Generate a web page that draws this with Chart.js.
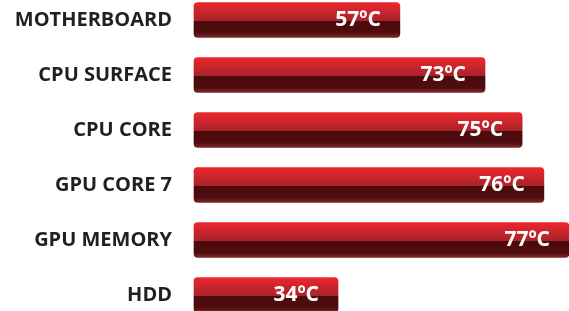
<!DOCTYPE html>
<html>
<head>
<meta charset="utf-8">
<script src="https://cdn.jsdelivr.net/npm/chart.js@4/dist/chart.umd.min.js"></script>
<style>
  html, body { margin: 0; padding: 0; background: #fff; }
  #wrap { width: 569px; height: 311px; position: relative; }
</style>
</head>
<body>
<div id="wrap"><canvas id="tempChart"></canvas></div>
<script>
// 传感器名称
const sensors = ['MOTHERBOARD', 'CPU SURFACE', 'CPU CORE', 'GPU CORE 7', 'GPU MEMORY', 'HDD'];
// 温度 (显示的标签)
const temps = [57, 73, 75, 76, 77, 34];
// 条形长度 (图中读出的相对长度, GPU MEMORY = 100)
const barLength = [54.9, 77.6, 87.5, 93.3, 100, 38.4];

const BAR_H = 35;

// 每根条形自己的光泽渐变
function barGradient(context) {
    const chart = context.chart;
    const yScale = chart.scales.y;
    if (!chart.chartArea || !yScale) return '#c8232a';
    const cy = yScale.getPixelForValue(context.dataIndex);
    const top = cy - BAR_H / 2;
    const g = chart.ctx.createLinearGradient(0, top, 0, top + BAR_H);
    g.addColorStop(0, '#ec272d');
    g.addColorStop(0.53, '#a8232a');
    g.addColorStop(0.54, '#4c0a0c');
    g.addColorStop(0.85, '#4e0c0e');
    g.addColorStop(1, '#7c2628');
    return g;
}

// 条形末端的温度文字
const valueLabels = {
    id: 'valueLabels',
    afterDatasetsDraw(chart) {
        const ctx = chart.ctx;
        const meta = chart.getDatasetMeta(0);
        ctx.save();
        ctx.font = 'bold 21px "Open Sans"';
        ctx.fillStyle = '#ffffff';
        ctx.textAlign = 'right';
        ctx.textBaseline = 'middle';
        meta.data.forEach((bar, i) => {
            ctx.fillText(temps[i] + 'ºC', bar.x - 19, bar.y);
        });
        ctx.restore();
    }
};

const ctx = document.getElementById('tempChart').getContext('2d');

new Chart(ctx, {
    type: 'bar',
    data: {
        labels: sensors,
        datasets: [{
            data: barLength,
            backgroundColor: barGradient,
            borderWidth: 0,
            borderRadius: 4,
            borderSkipped: false,
            barThickness: BAR_H,
            clip: false
        }]
    },
    options: {
        indexAxis: 'y',
        responsive: true,
        maintainAspectRatio: false,
        animation: false,
        layout: {
            padding: { top: 20, bottom: 16, right: 0, left: 0 }
        },
        scales: {
            x: {
                display: false,
                min: 0,
                max: 100
            },
            y: {
                offset: false,
                border: { display: false },
                grid: { display: false, drawTicks: false },
                ticks: {
                    padding: 22,
                    color: '#231f20',
                    font: { family: '"Open Sans"', weight: 'bold', size: 20 }
                },
                afterFit(scale) {
                    scale.width = 194;
                    scale.paddingTop = 0;
                    scale.paddingBottom = 0;
                }
            }
        },
        plugins: {
            legend: { display: false },
            tooltip: { enabled: false }
        }
    },
    plugins: [valueLabels]
});
</script>
</body>
</html>
